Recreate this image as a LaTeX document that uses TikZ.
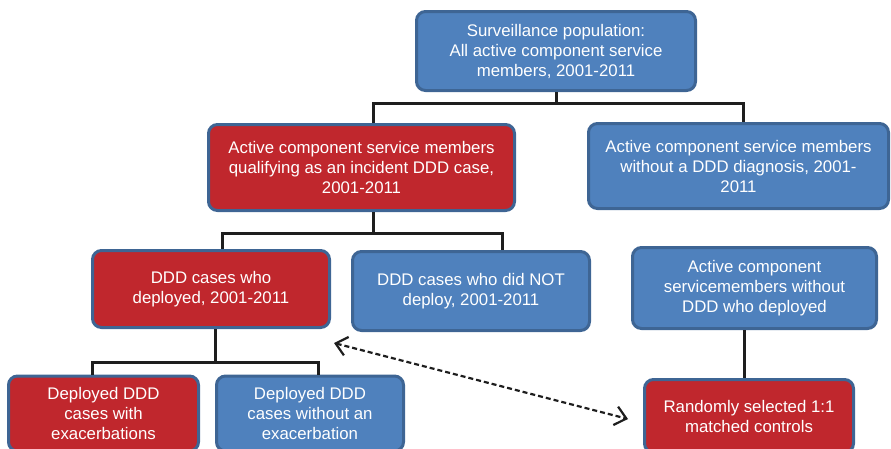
\documentclass[tikz,border=0pt]{standalone}
\usepackage{fontspec}
\setmainfont{Liberation Sans}
\usetikzlibrary{arrows.meta}

\definecolor{boxblue}{HTML}{4F81BD}
\definecolor{boxred}{HTML}{C0272D}
\definecolor{boxedge}{HTML}{3E6594}
\definecolor{linkcol}{HTML}{1E1E1E}

\begin{document}
\begin{tikzpicture}[x=1pt,y=-1pt,
  box/.style={draw=boxedge, line width=3pt, rounded corners=9pt, text=white,
    align=center, inner sep=0pt, font=\fontsize{16.8}{20}\selectfont},
  bluebox/.style={box, fill=boxblue},
  redbox/.style={box, fill=boxred},
  link/.style={draw=linkcol, line width=3pt},
  swap/.style={draw=linkcol, line width=2.2pt, dash pattern=on 5pt off 3pt,
    {Straight Barb[length=11pt,width=19pt,line width=2.2pt]}-{Straight Barb[length=11pt,width=19pt,line width=2.2pt]}}]

  % Picture frame
  \useasboundingbox (0,0) rectangle (891,448);
  \clip (0,0) rectangle (891,448);

  % Top level
  \node[bluebox, minimum width=279, minimum height=79] (top) at (556,51)
    {Surveillance population:\\All active component service\\members, 2001-2011};

  % Second level
  \node[redbox, minimum width=306, minimum height=86] (case) at (361.5,167.5)
    {Active component service members\\qualifying as an incident DDD case,\\2001-2011};
  \node[bluebox, minimum width=300, minimum height=85] (nodx) at (738.5,166)
    {Active component service members\\without a DDD diagnosis, 2001-\\2011};

  % Third level
  \node[redbox, minimum width=237, minimum height=77] (depl) at (211,289)
    {DDD cases who\\deployed, 2001-2011};
  \node[bluebox, minimum width=237, minimum height=79] (notdepl) at (471,291)
    {DDD cases who did NOT\\deploy, 2001-2011};
  \node[bluebox, minimum width=244, minimum height=81] (pool) at (754.5,288)
    {Active component\\servicemembers without\\DDD who deployed};

  % Bottom level
  \node[redbox, minimum width=190, minimum height=75] (exac) at (103.5,413.5)
    {Deployed DDD\\cases with\\exacerbations};
  \node[bluebox, minimum width=187, minimum height=75] (noexac) at (310,413.5)
    {Deployed DDD\\cases without an\\exacerbation};
  \node[redbox, minimum width=209, minimum height=73] (ctrl) at (749,416)
    {Randomly selected 1:1\\matched controls};

  % Tree connectors
  \coordinate (bar1) at (557,103);
  \coordinate (bar2) at (373,233);
  \coordinate (bar3) at (215,362);
  \draw[link] (top.south) -- (top.south |- bar1);
  \draw[link] ([xshift=11.5]case.north) |- (bar1) -| ([xshift=4.5]nodx.north);
  \draw[link] ([xshift=11.5]case.south) -- (bar2);
  \draw[link] ([xshift=11]depl.north) |- (bar2) -| ([xshift=31]notdepl.north);
  \draw[link] ([xshift=4]depl.south) -- (bar3);
  \draw[link] ([xshift=-11.5]exac.north) |- (bar3) -| ([xshift=8]noexac.north);
  \draw[link] ([xshift=-10.5]pool.south) -- ([xshift=-10.5]pool.south |- ctrl.north);

  % Matching arrow
  \coordinate (tipL) at (334,343);
  \coordinate (tipR) at (628,419);
  \draw[swap] (tipL) -- (tipR);

\end{tikzpicture}
\end{document}
